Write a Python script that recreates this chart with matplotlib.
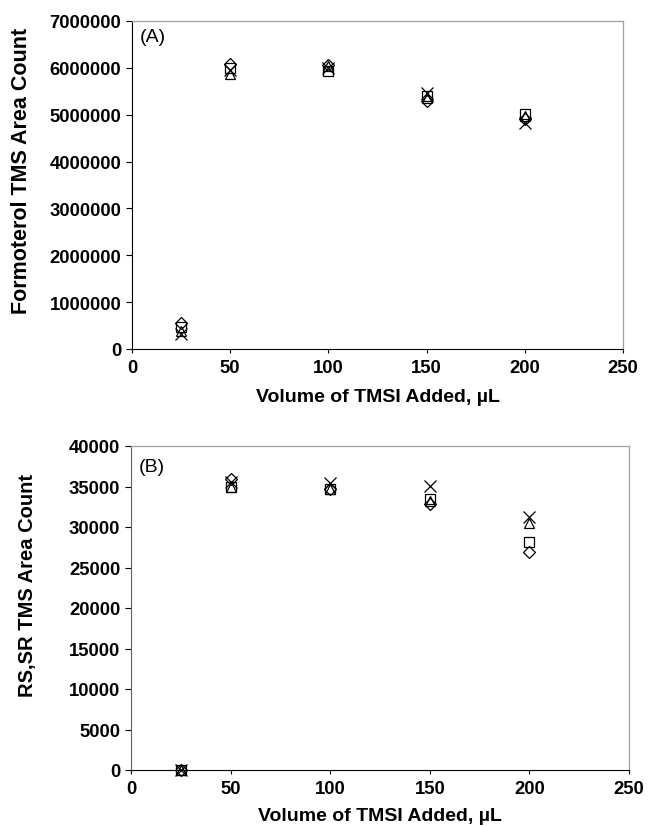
import matplotlib
matplotlib.use("Agg")
import matplotlib.pyplot as plt

plt.rcParams['font.family'] = ['Liberation Sans', 'DejaVu Sans']

volume = [25, 50, 100, 150, 200]

# Panel A: Formoterol TMS area counts
a_diamond = [560000, 6080000, 6070000, 5290000, 4900000]
a_square = [460000, 6000000, 5930000, 5400000, 5010000]
a_triangle = [380000, 5860000, 6050000, 5350000, 4980000]
a_cross = [330000, 5960000, 6000000, 5470000, 4830000]

# Panel B: RS,SR TMS area counts
b_diamond = [0, 35900, 34700, 32900, 26900]
b_square = [0, 34900, 34650, 33400, 28100]
b_triangle = [0, 35000, 34700, 33200, 30500]
b_cross = [0, 35500, 35400, 35100, 31200]

xticks = [0, 50, 100, 150, 200, 250]
a_yticks = [0, 1000000, 2000000, 3000000, 4000000, 5000000, 6000000, 7000000]
b_yticks = [0, 5000, 10000, 15000, 20000, 25000, 30000, 35000, 40000]

W, H = 652, 828
fig = plt.figure(figsize=(W / 100, H / 100), dpi=100)
FS = 13.3


def px_axes(left, top, right, bottom):
    return fig.add_axes([left / W, 1 - bottom / H, (right - left) / W, (bottom - top) / H])


def style(ax, yticks, ylabel, tag, ylabel_x, ylabel_y, ylabel_fs, xlabel_y, tag_dy):
    ax.set_xlim(0, 250)
    ax.set_ylim(yticks[0], yticks[-1])
    ax.set_xticks(xticks)
    ax.set_yticks(yticks)
    ax.set_xticklabels([str(v) for v in xticks], fontweight='bold', fontsize=FS)
    ax.set_yticklabels([str(v) for v in yticks], fontweight='bold', fontsize=FS)
    ax.tick_params(axis='y', direction='out', length=4.3, width=0.8, color='black', pad=3.5)
    ax.tick_params(axis='x', direction='out', length=3, width=0.8, color='black', pad=4)
    for s in ['top', 'right']:
        ax.spines[s].set_color('#a0a0a0')
        ax.spines[s].set_linewidth(0.9)
    ax.spines['left'].set_color('black')
    ax.spines['bottom'].set_color('black')
    ax.set_xlabel('Volume of TMSI Added, µL', fontweight='bold', fontsize=14)
    ax.xaxis.set_label_coords(0.5, xlabel_y)
    ax.set_ylabel(ylabel, fontweight='bold', fontsize=ylabel_fs)
    ax.yaxis.set_label_coords(ylabel_x, ylabel_y)
    bbox = ax.get_position()
    ax_h_px = bbox.height * H
    ax.text(8 / (bbox.width * W), 1 - tag_dy / ax_h_px, tag, transform=ax.transAxes,
            fontsize=14, va='top', ha='left')


def plot_series(ax, d, s, t, c):
    kw = dict(linestyle='none', markerfacecolor='none', markeredgecolor='black',
              markeredgewidth=0.9, clip_on=False)
    ax.plot(volume, d, marker='D', markersize=6, **kw)
    ax.plot(volume, s, marker='s', markersize=7, **kw)
    ax.plot(volume, t, marker='^', markersize=7, **kw)
    ax.plot(volume, c, marker='x', markersize=8, **kw)


axA = px_axes(132, 22, 623, 350)
plot_series(axA, a_diamond, a_square, a_triangle, a_cross)
style(axA, a_yticks, 'Formoterol TMS Area Count', '(A)', -0.204, 0.546, 15.5, -0.12, 7)

axB = px_axes(131, 447, 629, 771)
plot_series(axB, b_diamond, b_square, b_triangle, b_cross)
style(axB, b_yticks, 'RS,SR TMS Area Count', '(B)', -0.189, 0.574, 14.5, -0.115, 12)
axB.spines['left'].set_color('#606060')

fig.savefig('out.png', dpi=100)
